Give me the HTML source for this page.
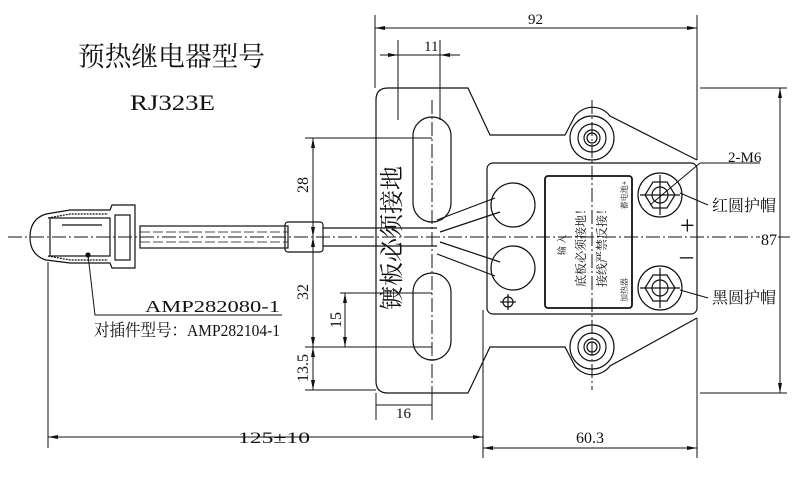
<!DOCTYPE html>
<html><head><meta charset="utf-8"><style>
body{margin:0;background:#fff}
svg{display:block}
text{font-family:"Liberation Serif","Noto Serif CJK SC",serif;fill:#111}
</style></head><body>
<svg width="800" height="477" viewBox="0 0 800 477" xmlns="http://www.w3.org/2000/svg">
<g stroke="#111" fill="none" stroke-width="1.2">
<line x1="8" y1="237" x2="790" y2="237" stroke-dasharray="14,3,2,3" stroke-width="1"/>
<line x1="432" y1="100" x2="432" y2="400" stroke-dasharray="14,3,2,3" stroke-width="1"/>
<line x1="592" y1="100" x2="592" y2="390" stroke-dasharray="14,3,2,3" stroke-width="1"/>
<path d="M388,88 L468,88 L490,135 L565,135 L575,116 A22,22 0 0 1 610,116 L697,160 M388,88 Q376,88 376,100 L376,381 Q376,393 388,393 L468,393 L490,347 L565,347 L575,366 A22,22 0 0 0 610,366 L697,318"/>
<rect x="487" y="163" width="210" height="151" rx="6"/>
<rect x="545" y="176" width="87" height="132" rx="3" stroke-width="1.8"/>
<circle cx="592" cy="138" r="22"/><circle cx="592" cy="138" r="14"/><circle cx="592" cy="138" r="8"/><circle cx="592" cy="138" r="5"/>
<circle cx="592" cy="347" r="22"/><circle cx="592" cy="347" r="14"/><circle cx="592" cy="347" r="8"/><circle cx="592" cy="347" r="5"/>
<circle cx="660" cy="195" r="22"/><polygon points="675,195 667,182 653,182 645,195 653,208 667,208"/><circle cx="660" cy="195" r="8"/>
<circle cx="660" cy="288" r="22"/><polygon points="675,288 667,275 653,275 645,288 653,301 667,301"/><circle cx="660" cy="288" r="8"/>
<line x1="640" y1="195" x2="680" y2="195"/><line x1="660" y1="175" x2="660" y2="215"/>
<line x1="640" y1="288" x2="680" y2="288"/><line x1="660" y1="268" x2="660" y2="308"/>
<circle cx="513" cy="205" r="22"/><circle cx="513" cy="268" r="22"/>
<circle cx="508" cy="302" r="5"/><line x1="500" y1="302" x2="516" y2="302"/><line x1="508" y1="294" x2="508" y2="310"/>
<path d="M437,220 L495,198 M440,232 L500,212 M437,254 L495,276 M440,242 L500,262"/>
<rect x="413" y="117" width="38" height="105" rx="19"/>
<rect x="413" y="273" width="38" height="87" rx="19"/>
<rect x="140" y="226" width="148" height="22"/>
<line x1="140" y1="232" x2="288" y2="232" stroke-dasharray="10,3" stroke-width="0.8"/>
<line x1="140" y1="242" x2="288" y2="242" stroke-dasharray="10,3" stroke-width="0.8"/>
<rect x="285" y="222" width="38" height="30" rx="3"/>
<line x1="323" y1="228" x2="437" y2="228"/><line x1="323" y1="246" x2="437" y2="246"/>
<path d="M46,214 L70,210 L110,210 L112,205 L135,205 L135,268 L112,268 L110,263 L70,263 L46,260 Q30,255 30,237 Q30,219 46,214 Z"/>
<path d="M48,218 L70,214 L108,214 M48,256 L70,260 L108,260" stroke-dasharray="2,1"/>
<rect x="50" y="218" width="60" height="38"/><rect x="115" y="215" width="15" height="45"/>
<line x1="62" y1="225" x2="102" y2="225"/>
<circle cx="88" cy="255" r="2" fill="#111"/>
</g>
<g stroke="#111" fill="none" stroke-width="1">
<line x1="375" y1="15" x2="375" y2="88"/><line x1="697" y1="15" x2="697" y2="160"/>
<line x1="375" y1="28" x2="697" y2="28"/>
<line x1="398" y1="40" x2="398" y2="120"/><line x1="440" y1="40" x2="440" y2="120"/>
<line x1="380" y1="55" x2="460" y2="55"/>
<line x1="313" y1="138" x2="313" y2="390"/>
<line x1="305" y1="138" x2="432" y2="138"/><line x1="305" y1="347" x2="432" y2="347"/><line x1="305" y1="390" x2="376" y2="390"/>
<line x1="345" y1="293" x2="345" y2="347"/><line x1="340" y1="293" x2="432" y2="293"/>
<line x1="376" y1="393" x2="376" y2="420"/><line x1="432" y1="393" x2="432" y2="420"/>
<line x1="376" y1="405" x2="432" y2="405"/>
<line x1="48" y1="262" x2="48" y2="448"/><line x1="483" y1="310" x2="483" y2="458"/><line x1="697" y1="318" x2="697" y2="458"/>
<line x1="48" y1="437" x2="483" y2="437"/><line x1="483" y1="448" x2="697" y2="448"/>
<line x1="700" y1="88" x2="787" y2="88"/><line x1="700" y1="393" x2="787" y2="393"/>
<line x1="780" y1="88" x2="780" y2="393"/>
<path d="M88,255 L95,315 L282,315"/>
<path d="M700,163 L760,163 M700,163 L650,205"/>
<path d="M680,193 L708,205 M680,290 L708,298"/>
</g>
<g fill="#111">
<polygon points="375,28 385,26 385,30"/><polygon points="697,28 687,26 687,30"/>
<polygon points="398,55 388,53 388,57"/><polygon points="440,55 450,53 450,57"/>
<polygon points="313,138 311,148 315,148"/><polygon points="313,237 311,227 315,227"/><polygon points="313,237 311,247 315,247"/>
<polygon points="313,347 311,337 315,337"/><polygon points="313,347 311,357 315,357"/><polygon points="313,390 311,380 315,380"/>
<polygon points="345,293 343,303 347,303"/><polygon points="345,347 343,337 347,337"/>
<polygon points="48,437 58,435 58,439"/><polygon points="483,437 473,435 473,439"/>
<polygon points="483,448 493,446 493,450"/><polygon points="697,448 687,446 687,450"/>
<polygon points="780,88 778,98 782,98"/><polygon points="780,393 778,383 782,383"/>
</g>
<text x="78" y="66" font-size="27" font-family="Liberation Sans,Noto Sans CJK SC,sans-serif" textLength="187" lengthAdjust="spacingAndGlyphs">预热继电器型号</text>
<text x="130" y="110" font-size="22" font-family="Liberation Sans,sans-serif" textLength="85" lengthAdjust="spacingAndGlyphs">RJ323E</text>
<text x="528" y="24" font-size="15">92</text>
<text x="424" y="51" font-size="15">11</text>
<text x="308" y="185" font-size="16" transform="rotate(-90 308 185)" text-anchor="middle">28</text>
<text x="308" y="292" font-size="16" transform="rotate(-90 308 292)" text-anchor="middle">32</text>
<text x="341" y="320" font-size="16" transform="rotate(-90 341 320)" text-anchor="middle">15</text>
<text x="308" y="368" font-size="16" transform="rotate(-90 308 368)" text-anchor="middle">13.5</text>
<text x="396" y="418" font-size="15">16</text>
<text x="238" y="443" font-size="16" textLength="72" lengthAdjust="spacingAndGlyphs">125±10</text>
<text x="576" y="443" font-size="16">60.3</text>
<rect x="760" y="228" width="18" height="18" fill="#fff"/>
<text x="761" y="245" font-size="16">87</text>
<text x="728" y="162" font-size="15">2-M6</text>
<text x="712" y="211" font-size="16">红圆护帽</text>
<text x="712" y="303" font-size="16">黑圆护帽</text>
<text x="145" y="312" font-size="17" textLength="135" lengthAdjust="spacingAndGlyphs">AMP282080-1</text>
<text x="94" y="336" font-size="17" textLength="186" lengthAdjust="spacingAndGlyphs">对插件型号：AMP282104-1</text>
<text x="400" y="238" font-size="24" transform="rotate(-90 400 238)" text-anchor="middle">镀板必须接地</text>
<text x="585" y="245" font-size="12" transform="rotate(-90 585 245)" text-anchor="middle">底板必须接地！</text>
<text x="606" y="245" font-size="12" transform="rotate(-90 606 245)" text-anchor="middle">接线严禁反接！</text>
<text x="565" y="245" font-size="9" transform="rotate(-90 565 245)" text-anchor="middle">输 入</text>
<text x="627" y="290" font-size="8" transform="rotate(-90 627 290)" text-anchor="middle">加热器</text>
<text x="627" y="195" font-size="8" transform="rotate(-90 627 195)" text-anchor="middle">蓄电池+</text>
<text x="680" y="234" font-size="26" font-family="Liberation Sans,sans-serif">+</text>
<text x="680" y="264" font-size="26" font-family="Liberation Sans,sans-serif">–</text>
</svg>
</body></html>
